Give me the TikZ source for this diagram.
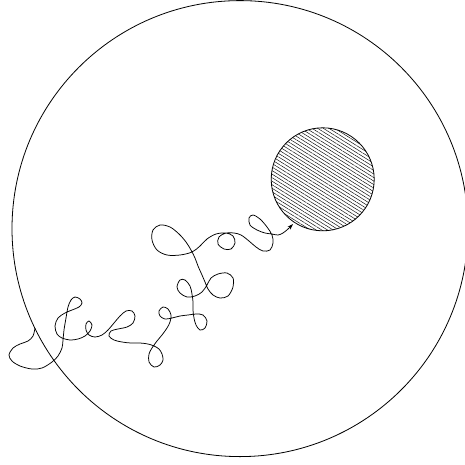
\documentclass[tikz,border=0pt]{standalone}
\usetikzlibrary{patterns.meta,arrows.meta}
\begin{document}
\begin{tikzpicture}[x=1pt,y=-1pt,line width=0.8pt,
  hatched/.style={draw,line width=0.8pt,pattern={Lines[angle=-32,distance=3pt,line width=0.45pt]}},
  walk/.style={line width=0.75pt,-{Stealth[length=6pt,width=4pt]}}]
\useasboundingbox (0,0) rectangle (465,464);
\node[circle,draw,minimum size=456pt,inner sep=0pt] (big) at (240,228.6) {};
\node[circle,hatched,minimum size=103pt,inner sep=0pt] (trap) at (322.7,179.3) {};
\coordinate (start) at (35,328);
\draw[walk] plot[smooth,tension=0.55] coordinates {
 (35,328) (33,336) (28,341) (20,344) (13,348) (9,355) (12,361) (20,366) (32,369) (42,368) (52,362) (58,356) (62,348) (63,340) (64,330) (66,318) (68,307) (71,300) (75,297) (80,299) (82,303) (79,307) (72,310) (65,313) (58,318) (55,326) (57,334) (62,338) (70,340) (78,339) (85,336) (90,331) (92,325) (89,321) (86,324) (86,330) (89,335) (95,337) (102,335) (108,330) (114,323) (120,316) (126,311) (132,311) (135,316) (133,323) (127,327) (118,329) (111,331) (109,336) (114,340) (122,342) (131,343) (140,343) (148,344) (154,346) (159,349) (162,354) (163,360) (160,365) (154,367) (149,362) (149,354) (152,348) (157,341) (162,335) (167,328) (170,322) (171,315) (168,309) (163,307) (159,311) (160,316) (165,319) (172,318) (180,316) (188,315) (196,314) (203,315) (207,321) (205,328) (200,330) (196,325) (194,318) (193,310) (193,302) (192,294) (190,286) (185,280) (180,280) (177,287) (180,293) (187,297) (195,296) (202,292) (207,285) (211,278) (218,274) (227,273) (233,278) (233,287) (228,296) (220,298) (213,295) (208,289) (205,282) (202,275) (198,266) (195,258) (191,250) (186,242) (179,234) (170,227) (160,225) (153,230) (152,240) (157,250) (167,255) (180,255) (192,252) (200,246) (207,239) (216,234) (226,233) (233,236) (235,243) (231,249) (224,249) (218,244) (219,237) (226,233) (234,233) (241,235) (249,241) (256,247) (263,251) (270,250) (273,243) (272,235) (267,227) (260,219) (253,215) (249,218) (250,225) (257,230) (265,233) (272,234) (278,235) (283,233) (288,229) (293,224)};
\end{tikzpicture}
\end{document}
